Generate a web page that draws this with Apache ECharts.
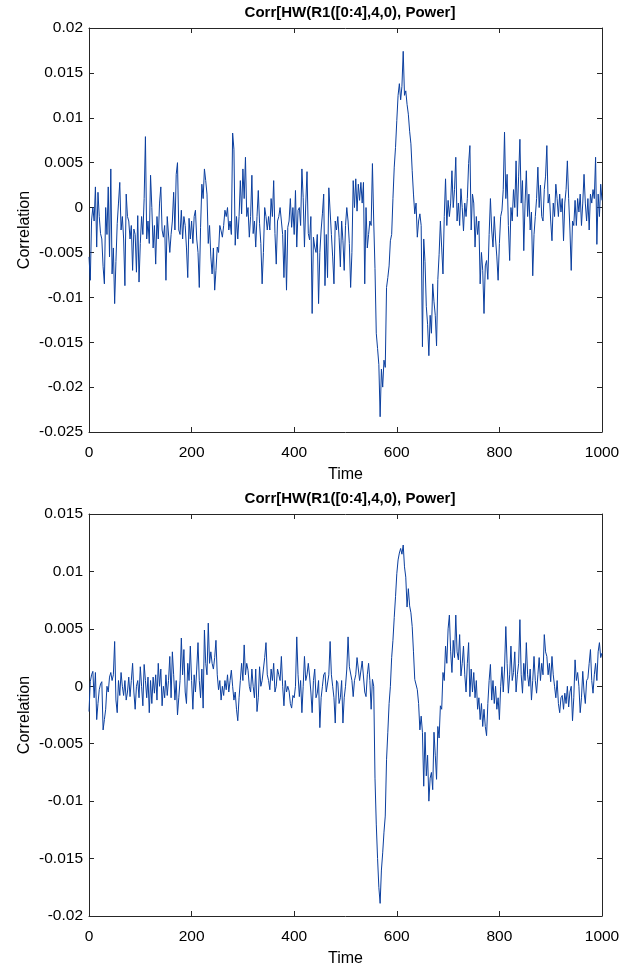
<!DOCTYPE html>
<html><head><meta charset="utf-8">
<script src="https://cdn.jsdelivr.net/npm/echarts@6/dist/echarts.min.js"></script>
<style>html,body{margin:0;padding:0;background:#fff}#c{width:634px;height:968px}</style>
</head><body><div id="c"></div>
<script>
const titleText = 'Corr[HW(R1([0:4],4,0), Power]';
const xName = 'Time';
const yName = 'Correlation';
const xTicks = [0, 200, 400, 600, 800, 1000];
const yTicksTop = [-0.025, -0.02, -0.015, -0.01, -0.005, 0, 0.005, 0.01, 0.015, 0.02];
const yTicksBottom = [-0.02, -0.015, -0.01, -0.005, 0, 0.005, 0.01, 0.015];
const timeStep = 2.5;

// correlation values (units of 1e-3), one per 2.5 time units, 10 per row = 25 time units
const corrTopMilli = [
-5.5,-8.1,-1.4,0.0,-1.5,2.3,-4.4,1.7,-1.0,-2.9,
-3.5,-6.6,-8.5,0.0,-3.0,2.3,-5.5,4.3,-7.4,-4.5,
-10.7,-6.0,-1.8,0.5,2.8,-2.5,-1.0,-3.5,-8.7,1.5,
-1.0,-1.5,-3.5,-2.0,-7.0,-2.4,-3.0,-7.2,-0.9,-8.3,
-4.0,-1.0,-3.0,1.0,7.9,-3.5,-1.5,-4.0,3.6,0.0,
-4.5,-2.0,-6.3,-1.0,-3.5,0.5,2.3,-2.5,-3.3,-2.0,
-8.1,-1.0,-1.0,-5.0,-3.0,-1.5,1.7,-2.5,3.7,5.0,
-2.5,-3.0,-0.3,-3.5,-1.0,-2.0,-4.5,-7.8,-1.2,-3.5,
-1.5,-4.0,-1.0,-0.3,-3.5,-5.0,-8.9,-2.2,2.6,1.0,
4.3,3.0,1.5,-4.0,-2.0,-5.5,-7.4,-4.5,-9.2,-7.0,
-4.4,-5.0,-2.0,-2.6,-3.3,-2.0,-0.3,-1.0,0.0,-2.5,
-1.5,-3.0,8.3,6.5,-4.2,-1.0,-3.5,-1.0,3.0,-0.7,
4.3,1.0,5.6,-1.0,0.0,-3.3,-1.0,3.6,-2.9,-1.5,
-4.4,-1.0,1.9,-1.8,-4.0,-8.5,-5.0,0.0,-1.0,-2.5,
-1.0,-2.5,1.0,-1.0,3.0,-2.9,-6.3,-1.5,-1.0,0.0,
-1.5,-3.0,-7.8,-2.5,-9.2,-2.2,-1.5,1.0,-2.2,0.0,
-3.0,1.9,-4.4,-0.3,0.0,-2.0,4.3,1.1,-4.4,0.4,
4.0,-2.9,-3.6,-1.0,-11.8,-3.3,-4.4,-5.0,-3.0,-10.7,
-5.0,-2.5,-0.7,1.5,-8.7,-3.0,-7.8,2.2,2.4,-3.0,
-5.5,-8.5,-1.5,-2.5,-1.0,-3.3,-6.6,-1.5,-3.7,-7.0,
-2.0,0.0,-1.5,-4.0,-8.9,-5.0,3.0,0.0,3.2,-0.4,
2.6,0.8,2.8,0.5,2.8,-8.5,0.0,-4.5,-3.0,-1.5,
-2.0,4.9,-1.5,-6.8,-14.0,-15.7,-17.5,-23.3,-18.0,-20.0,
-17.0,-17.8,-8.9,-7.8,-6.5,-3.7,-3.0,1.0,4.5,6.7,
9.7,12.5,13.8,12.0,13.5,17.4,12.5,13.0,11.5,10.4,
8.5,7.1,4.1,1.5,-0.7,0.5,-3.3,-1.5,-0.7,-2.0,
-15.5,-3.5,-6.0,-11.0,-13.0,-16.5,-12.0,-14.0,-8.5,-10.5,
-12.0,-15.4,-8.0,-5.2,-1.5,-4.5,-7.4,-1.0,3.2,-2.0,
0.8,-1.0,0.5,4.1,0.0,2.0,5.6,-1.5,0.5,-2.0,
2.1,0.0,-2.6,0.5,-1.0,1.0,4.9,6.9,-2.5,1.5,
0.5,-4.4,-1.0,-3.0,-1.5,-8.5,-5.0,-7.0,-11.8,-6.5,
-5.9,-8.0,-3.0,1.0,-2.5,-4.4,-1.0,-3.5,-5.5,-8.1,
-4.0,-1.0,-0.3,2.0,8.4,1.0,3.7,-2.0,-5.9,0.0,
-1.5,2.0,0.0,5.2,-1.0,3.5,7.6,0.5,3.0,-4.8,
0.5,4.1,-1.0,1.5,-2.5,-0.5,-7.6,-3.0,-1.0,1.0,
4.5,0.0,2.5,-1.0,-1.5,2.0,3.5,6.9,0.5,1.5,
-1.5,-3.7,0.5,-1.0,2.6,1.0,-1.0,1.5,-0.5,1.0,
-3.7,0.5,2.0,5.2,1.0,-2.5,-7.0,-1.5,-2.0,0.8,
-2.0,1.0,-0.5,1.5,-2.0,0.5,3.7,0.5,-1.5,1.0,
-2.5,1.5,0.5,2.0,1.0,5.6,-4.1,1.5,-1.0,2.6,
0.8
];

const corrBottomMilli = [
-2.2,0.4,1.0,1.3,-1.0,1.2,-2.9,-1.5,-0.3,0.2,
0.4,-3.8,-2.9,-2.0,0.0,-0.5,0.8,1.2,0.5,1.0,
3.9,-1.2,-2.3,0.5,-0.8,1.2,0.0,-0.8,0.5,-1.2,
-0.5,0.8,-0.9,0.5,2.0,-0.5,-2.0,0.0,0.5,-1.0,
1.7,0.0,-1.7,1.9,0.5,-1.0,0.8,-2.3,0.5,-1.5,
0.8,-0.6,1.0,-1.2,2.0,0.0,1.5,-1.7,0.0,-1.0,
1.0,-0.8,0.5,2.6,-1.0,3.0,1.0,-1.2,0.5,-2.5,
-1.0,0.5,4.2,1.0,3.2,-0.5,-1.5,2.0,0.5,3.5,
0.5,-2.0,1.0,-0.5,1.5,3.8,0.5,-1.0,1.5,-1.9,
4.9,2.0,1.0,5.5,2.0,3.0,2.0,1.5,2.5,4.0,
1.0,-0.3,0.5,-1.2,0.0,-0.8,0.5,-0.3,1.0,-0.5,
0.5,1.4,0.0,-1.2,-0.5,-2.0,-3.0,-1.0,0.5,2.0,
0.5,3.6,1.0,2.0,1.4,0.0,-0.5,1.5,0.0,-1.0,
1.5,-2.2,-1.0,1.7,0.0,0.5,1.5,2.5,3.8,1.0,
0.5,-0.3,1.5,0.5,2.0,-0.5,0.0,1.5,1.0,0.5,
2.6,0.0,-1.7,0.5,-0.5,0.0,-0.4,-1.5,-1.9,-0.8,
-1.0,0.0,4.3,1.0,-0.9,0.5,-2.3,0.0,2.6,0.5,
1.0,2.0,0.9,-0.5,-2.3,0.5,1.5,-1.0,-0.6,0.5,
-3.6,-1.0,0.0,1.0,1.2,-0.5,-0.5,1.0,3.9,1.0,
0.0,-1.0,-3.2,0.5,0.3,-1.5,-1.0,0.5,-3.2,-1.0,
0.0,1.5,4.3,1.7,1.7,0.5,-0.9,0.5,1.0,2.5,
2.5,0.5,0.5,2.2,2.2,-0.5,-0.9,1.0,2.0,0.5,
-2.0,0.6,0.0,-8.0,-12.0,-15.0,-17.5,-18.9,-16.0,-14.5,
-12.7,-11.3,-6.4,-4.0,-1.5,0.0,2.5,4.0,6.0,7.8,
9.8,11.0,11.6,12.0,11.5,12.3,10.4,9.5,6.9,8.5,
7.0,6.4,5.2,3.0,0.6,0.5,-0.3,-1.5,-3.8,-2.6,
-4.0,-8.7,-4.0,-7.8,-6.0,-10.0,-8.0,-7.5,-9.0,-4.0,
-6.0,-8.1,-3.5,-4.5,-1.7,-2.0,1.2,0.5,3.5,2.0,
5.0,6.2,3.0,1.2,4.0,2.5,6.2,3.0,2.3,4.5,
0.9,2.0,3.5,1.0,-0.5,2.0,3.8,-0.9,1.5,-0.5,
1.2,-1.0,0.5,-2.0,-1.0,-2.9,-1.5,-3.5,-2.0,-3.5,
-4.3,-1.5,0.5,1.9,-1.2,0.5,-1.5,0.0,-2.0,-1.0,
-2.9,0.0,1.7,-0.5,1.5,5.2,2.0,-0.6,1.0,3.5,
0.5,1.2,3.0,-0.5,1.0,2.0,5.8,1.0,-0.6,2.0,
0.5,3.8,1.0,0.0,1.5,-1.2,0.5,2.6,0.5,-0.6,
1.0,2.5,0.5,2.0,1.0,4.5,3.0,2.6,1.0,2.0,
0.4,2.6,1.0,0.0,-1.0,0.5,-1.5,-2.3,-1.0,-0.8,
-2.0,-0.6,-1.5,0.0,-1.8,-0.5,0.0,-3.0,-1.0,2.3,
0.5,1.2,0.0,-2.3,-1.0,1.3,-0.5,-1.5,0.5,0.7,
2.0,3.2,0.5,-0.6,1.0,2.0,0.5,3.0,3.8,2.5,
2.9
];

const FONT = '"Liberation Sans", Arial, Helvetica, sans-serif';
const AX = '#262626';
const LINE = '#0b3f9f';

function pairs(vals) { return vals.map((v, i) => [i * timeStep, v / 1000]); }

const grids = [
  { left: 89, top: 28, width: 513, height: 404 },
  { left: 89, top: 514, width: 513, height: 403 }
];
const yTickSets = [yTicksTop, yTicksBottom];
const seriesVals = [corrTopMilli, corrBottomMilli];

const xAxes = [], yAxes = [], series = [], titles = [];
grids.forEach((g, gi) => {
  const common = {
    gridIndex: gi,
    axisLine: { show: true, onZero: false, lineStyle: { color: AX, width: 1 } },
    axisTick: { show: true, inside: true, length: 5, lineStyle: { color: AX } },
    splitLine: { show: false }
  };
  xAxes.push(Object.assign({}, common, {
    type: 'value', position: 'bottom', min: xTicks[0], max: xTicks[xTicks.length - 1],
    interval: xTicks[1] - xTicks[0],
    name: xName, nameLocation: 'middle', nameGap: 35, nameMoveOverlap: false,
    nameTextStyle: { fontFamily: FONT, fontSize: 16, color: '#000' },
    axisLabel: { margin: 13, fontFamily: FONT, fontSize: 15.5, color: '#000', formatter: v => String(v) }
  }));
  xAxes.push(Object.assign({}, common, {
    type: 'value', position: 'top', min: xTicks[0], max: xTicks[xTicks.length - 1],
    interval: xTicks[1] - xTicks[0], axisLabel: { show: false }
  }));
  const yt = yTickSets[gi];
  yAxes.push(Object.assign({}, common, {
    type: 'value', position: 'left', min: yt[0], max: yt[yt.length - 1],
    interval: 0.005,
    name: yName, nameLocation: 'middle', nameGap: 56, nameMoveOverlap: false,
    nameTextStyle: { fontFamily: FONT, fontSize: 16, color: '#000' },
    axisLabel: { margin: 6, fontFamily: FONT, fontSize: 15.5, color: '#000' }
  }));
  yAxes.push(Object.assign({}, common, {
    type: 'value', position: 'right', min: yt[0], max: yt[yt.length - 1],
    interval: 0.005, axisLabel: { show: false }
  }));
  series.push({
    type: 'line', xAxisIndex: gi * 2, yAxisIndex: gi * 2,
    data: pairs(seriesVals[gi]), showSymbol: false, symbol: 'none',
    lineStyle: { color: LINE, width: 1 }, animation: false
  });
  titles.push({
    text: titleText, left: 345, top: g.top - 27.5, textAlign: 'center',
    textStyle: { fontFamily: FONT, fontSize: 15, fontWeight: 'bold', color: '#000' }
  });
});

const chart = echarts.init(document.getElementById('c'), null, { renderer: 'canvas' });
chart.setOption({
  backgroundColor: '#fff',
  animation: false,
  title: titles,
  grid: grids,
  xAxis: xAxes,
  yAxis: yAxes,
  series: series
});
</script>
</body></html>
